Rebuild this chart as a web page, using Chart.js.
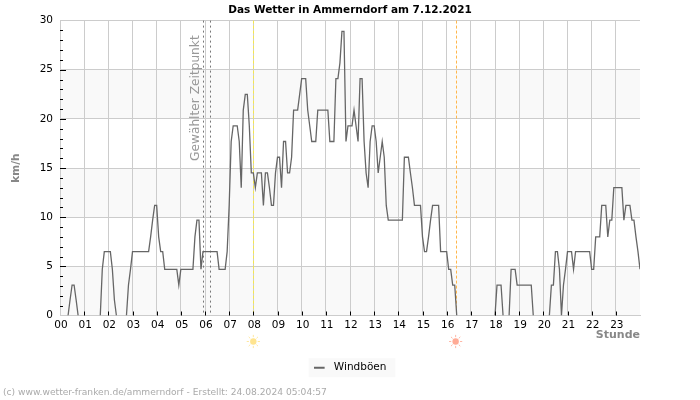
<!DOCTYPE html>
<html>
<head>
<meta charset="utf-8">
<title>Das Wetter in Ammerndorf</title>
<script src="https://cdn.jsdelivr.net/npm/chart.js@4"></script>
<style>
  html, body { margin: 0; padding: 0; background: #fff; }
  canvas { display: block; }
</style>
</head>
<body>
<canvas id="wetter" width="700" height="400"></canvas>
<script>
// one row per hour, 5 minute samples
var gustValues = [
  0, 0, 0, 0, 0, 1.6, 3.1, 3.1, 1.6, 0, 0, 0,
  0, 0, 0, 0, 0, 0, 0, 0, 0, 4.7, 6.5, 6.5,
  6.5, 6.5, 4.7, 1.6, 0, 0, 0, 0, 0, 0, 3.1, 4.7,
  6.5, 6.5, 6.5, 6.5, 6.5, 6.5, 6.5, 6.5, 6.5, 8, 9.7, 11.2,
  11.2, 8, 6.5, 6.5, 4.7, 4.7, 4.7, 4.7, 4.7, 4.7, 4.7, 3.1,
  4.7, 4.7, 4.7, 4.7, 4.7, 4.7, 4.7, 8, 9.7, 9.7, 4.7, 6.5,
  6.5, 6.5, 6.5, 6.5, 6.5, 6.5, 6.5, 4.7, 4.7, 4.7, 4.7, 6.5,
  11.2, 17.7, 19.3, 19.3, 19.3, 17.7, 13, 20.9, 22.5, 22.5, 19.3, 14.5,
  14.5, 13, 14.5, 14.5, 14.5, 11.2, 14.5, 14.5, 13, 11.2, 11.2, 14.5,
  16.1, 16.1, 13, 17.7, 17.7, 14.5, 14.5, 16.1, 20.9, 20.9, 20.9, 22.5,
  24.1, 24.1, 24.1, 20.9, 19.3, 17.7, 17.7, 17.7, 20.9, 20.9, 20.9, 20.9,
  20.9, 20.9, 17.7, 17.7, 17.7, 24.1, 24.1, 25.7, 28.9, 28.9, 17.7, 19.3,
  19.3, 19.3, 20.9, 19.3, 17.7, 24.1, 24.1, 17.7, 14.5, 13, 17.7, 19.3,
  19.3, 17.7, 14.5, 16.1, 17.7, 16.1, 11.2, 9.7, 9.7, 9.7, 9.7, 9.7,
  9.7, 9.7, 9.7, 16.1, 16.1, 16.1, 14.5, 13, 11.2, 11.2, 11.2, 11.2,
  8, 6.5, 6.5, 8, 9.7, 11.2, 11.2, 11.2, 11.2, 6.5, 6.5, 6.5,
  6.5, 4.7, 4.7, 3.1, 3.1, 0, 0, 0, 0, 0, 0, 0,
  0, 0, 0, 0, 0, 0, 0, 0, 0, 0, 0, 0,
  0, 3.1, 3.1, 3.1, 0, 0, 0, 0, 4.7, 4.7, 4.7, 3.1,
  3.1, 3.1, 3.1, 3.1, 3.1, 3.1, 3.1, 0, 0, 0, 0, 0,
  0, 0, 0, 0, 3.1, 3.1, 6.5, 6.5, 4.7, 0, 3.1, 4.7,
  6.5, 6.5, 6.5, 4.7, 6.5, 6.5, 6.5, 6.5, 6.5, 6.5, 6.5, 6.5,
  4.7, 4.7, 8, 8, 8, 11.2, 11.2, 11.2, 8, 9.7, 9.7, 13,
  13, 13, 13, 13, 9.7, 11.2, 11.2, 11.2, 9.7, 9.7, 8, 6.5,
  4.7
];
var hourLabels = ['00','01','02','03','04','05','06','07','08','09','10','11',
  '12','13','14','15','16','17','18','19','20','21','22','23'];
var shadedBands = [[0, 5], [10, 15], [20, 25]];
var selectedTimes = [5.9, 6.2];
var sunrise = 8;
var sunset = 16.4;
var footerText = '(c) www.wetter-franken.de/ammerndorf - Erstellt: 24.08.2024 05:04:57';

var fontName = '"DejaVu Sans"';

// legend sample: 11px line and some empty room before the text
var legendMark = document.createElement('canvas');
legendMark.width = 15;
legendMark.height = 6;
var markCtx = legendMark.getContext('2d');
markCtx.fillStyle = '#666';
markCtx.fillRect(0, 2, 11, 2);

function vLine(chart, hour, color, dash) {
  var c = chart.ctx, area = chart.chartArea;
  var x = Math.round(chart.scales.x.getPixelForValue(hour)) + 0.5;
  c.save();
  c.strokeStyle = color;
  c.lineWidth = 1;
  c.setLineDash(dash);
  c.beginPath();
  c.moveTo(x, area.top);
  c.lineTo(x, area.bottom);
  c.stroke();
  c.restore();
}

function sunIcon(c, x, y, color) {
  c.save();
  c.fillStyle = color;
  c.strokeStyle = color;
  c.beginPath();
  c.arc(x, y, 3.2, 0, Math.PI * 2);
  c.fill();
  c.globalAlpha = 0.85;
  c.lineWidth = 1;
  c.beginPath();
  for (var a = 0; a < 8; a++) {
    var dx = Math.cos(a * Math.PI / 4), dy = Math.sin(a * Math.PI / 4);
    c.moveTo(x + dx * 4.4, y + dy * 4.4);
    c.lineTo(x + dx * 6.6, y + dy * 6.6);
  }
  c.stroke();
  c.restore();
}

var decorations = {
  id: 'decorations',
  beforeDraw: function (chart) {
    var c = chart.ctx, area = chart.chartArea, y = chart.scales.y;
    c.save();
    c.fillStyle = '#f9f9f9';
    shadedBands.forEach(function (b) {
      var top = y.getPixelForValue(b[1]);
      c.fillRect(area.left, top, area.right - area.left, y.getPixelForValue(b[0]) - top);
    });
    var hit = chart.legend.legendHitBoxes[0];
    c.fillRect(hit.left - 5, hit.top + hit.height / 2 - 9.5, hit.width + 14, 19);
    c.fillStyle = '#aaa';
    c.font = '9.15px ' + fontName;
    c.textBaseline = 'middle';
    c.fillText(footerText, 3, 393);
    c.restore();
  },
  beforeDatasetsDraw: function (chart) {
    selectedTimes.forEach(function (h) { vLine(chart, h, '#777', [2, 3]); });
    vLine(chart, sunrise, '#f7e84a', [3, 2]);
    vLine(chart, sunset, '#ffb84d', [3, 2]);

    var c = chart.ctx;
    c.save();
    c.translate(196, 161);
    c.rotate(-Math.PI / 2);
    c.fillStyle = '#999';
    c.font = '12.2px ' + fontName;
    c.textBaseline = 'middle';
    c.fillText('Gewählter Zeitpunkt', 0, 0);
    c.restore();
  },
  afterDatasetsDraw: function (chart) {
    var c = chart.ctx, area = chart.chartArea, xs = chart.scales.x, ys = chart.scales.y;
    c.save();
    c.strokeStyle = '#000';
    c.lineWidth = 1;
    c.beginPath();
    for (var v = 1; v < 30; v++) {
      var py = Math.round(ys.getPixelForValue(v)) + 0.5;
      c.moveTo(area.left, py);
      c.lineTo(area.left + (v % 5 === 0 ? 6 : 3), py);
    }
    for (var h = 1; h < hourLabels.length; h++) {
      var px = Math.round(xs.getPixelForValue(h)) + 0.5;
      c.moveTo(px, area.bottom);
      c.lineTo(px, area.bottom - 4);
    }
    c.stroke();
    c.restore();

    sunIcon(c, xs.getPixelForValue(sunrise), 341.5, '#ffe48f');
    sunIcon(c, xs.getPixelForValue(sunset) - 0.7, 341.5, '#ffab96');
  }
};

new Chart(document.getElementById('wetter'), {
  type: 'line',
  data: {
    datasets: [{
      label: 'Windböen',
      data: gustValues.map(function (v, i) { return { x: i / 12, y: v }; }),
      borderColor: '#666',
      backgroundColor: '#666',
      borderWidth: 1.3,
      pointRadius: 0,
      tension: 0,
      // line at 0 km/h is not visible in the original
      segment: {
        borderColor: function (ctx) {
          return ctx.p0.parsed.y === 0 && ctx.p1.parsed.y === 0 ? 'transparent' : undefined;
        }
      }
    }]
  },
  options: {
    responsive: false,
    animation: false,
    layout: { padding: { left: 10, right: 10, top: 0, bottom: 17 } },
    plugins: {
      title: {
        display: true,
        text: 'Das Wetter in Ammerndorf am 7.12.2021',
        color: '#000',
        font: { family: fontName, size: 10.5, weight: 'bold' },
        padding: { top: 4, bottom: 4 }
      },
      legend: {
        position: 'bottom',
        labels: {
          usePointStyle: true,
          pointStyle: legendMark,
          pointStyleWidth: 15,
          color: '#000',
          font: { family: fontName, size: 10.5 },
          padding: 21
        }
      },
      tooltip: { enabled: false }
    },
    scales: {
      x: {
        type: 'linear',
        min: 0,
        max: 24,
        afterBuildTicks: function (axis) {
          axis.ticks = axis.ticks.filter(function (t) { return t.value < 24; });
        },
        afterFit: function (axis) { axis.height = 26; },
        grid: { color: '#ccc', drawTicks: false },
        border: { color: '#ccc' },
        ticks: {
          stepSize: 1,
          autoSkip: false,
          maxRotation: 0,
          padding: 3,
          labelOffset: 1,
          color: '#000',
          font: { family: fontName, size: 10.5 },
          callback: function (v) { return hourLabels[v]; }
        },
        title: {
          display: true,
          text: 'Stunde',
          align: 'end',
          color: '#888',
          font: { family: fontName, size: 11, weight: 'bold' },
          padding: { top: 0, bottom: 0 }
        }
      },
      y: {
        min: 0,
        max: 30,
        afterFit: function (axis) { axis.width = 50; },
        grid: { color: '#ccc', drawTicks: false },
        border: { color: '#ccc' },
        ticks: {
          stepSize: 5,
          padding: 7,
          color: '#000',
          font: { family: fontName, size: 10.5 }
        },
        title: {
          display: true,
          text: 'km/h',
          color: '#888',
          font: { family: fontName, size: 10.5, weight: 'bold' },
          padding: { top: 0, bottom: 0 }
        }
      },
      // empty axis, only keeps the right margin so title and legend stay centred on the page
      margin: {
        position: 'right',
        min: 0,
        max: 1,
        afterFit: function (axis) { axis.width = 50; },
        grid: { display: false },
        border: { display: false },
        ticks: { display: false }
      }
    }
  },
  plugins: [decorations]
});
</script>
</body>
</html>
